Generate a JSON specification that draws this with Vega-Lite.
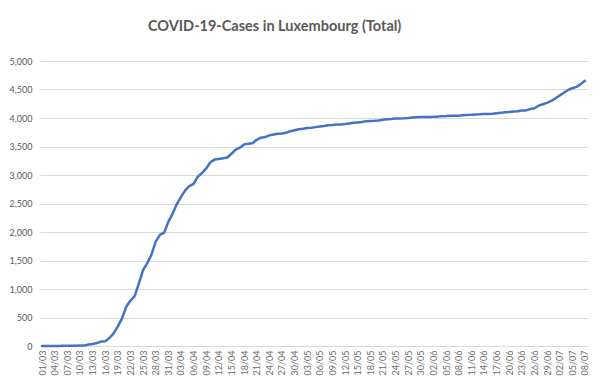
{
  "$schema": "https://vega.github.io/schema/vega-lite/v6.json",
  "width": 547,
  "height": 285,
  "autosize": "none",
  "padding": {"left": 40, "top": 61, "right": 13, "bottom": 39},
  "background": "white",
  "config": {"view": {"stroke": null}, "font": "Lato"},
  "title": {"text": "COVID-19-Cases in Luxembourg (Total)", "anchor": "start", "frame": "group", "dx": 108, "offset": 23, "fontSize": 14.5, "fontWeight": "bold", "color": "#595959", "font": "Lato"},
  "data": {"values": [
    {"d":"01/03","c":1},{"d":"02/03","c":1},{"d":"03/03","c":1},{"d":"04/03","c":1},{"d":"05/03","c":2},{"d":"06/03","c":3},{"d":"07/03","c":4},{"d":"08/03","c":5},{"d":"09/03","c":5},{"d":"10/03","c":7},
    {"d":"11/03","c":7},{"d":"12/03","c":26},{"d":"13/03","c":34},{"d":"14/03","c":51},{"d":"15/03","c":77},{"d":"16/03","c":85},{"d":"17/03","c":140},{"d":"18/03","c":220},{"d":"19/03","c":345},{"d":"20/03","c":484},
    {"d":"21/03","c":690},{"d":"22/03","c":798},{"d":"23/03","c":875},{"d":"24/03","c":1099},{"d":"25/03","c":1333},{"d":"26/03","c":1453},{"d":"27/03","c":1605},{"d":"28/03","c":1831},{"d":"29/03","c":1950},{"d":"30/03","c":1988},
    {"d":"31/03","c":2178},{"d":"01/04","c":2319},{"d":"02/04","c":2487},{"d":"03/04","c":2612},{"d":"04/04","c":2729},{"d":"05/04","c":2804},{"d":"06/04","c":2843},{"d":"07/04","c":2970},{"d":"08/04","c":3034},{"d":"09/04","c":3115},
    {"d":"10/04","c":3223},{"d":"11/04","c":3270},{"d":"12/04","c":3281},{"d":"13/04","c":3292},{"d":"14/04","c":3307},{"d":"15/04","c":3373},{"d":"16/04","c":3444},{"d":"17/04","c":3480},{"d":"18/04","c":3537},{"d":"19/04","c":3550},
    {"d":"20/04","c":3558},{"d":"21/04","c":3618},{"d":"22/04","c":3654},{"d":"23/04","c":3665},{"d":"24/04","c":3695},{"d":"25/04","c":3711},{"d":"26/04","c":3723},{"d":"27/04","c":3729},{"d":"28/04","c":3741},{"d":"29/04","c":3769},
    {"d":"30/04","c":3784},{"d":"01/05","c":3802},{"d":"02/05","c":3812},{"d":"03/05","c":3824},{"d":"04/05","c":3828},{"d":"05/05","c":3840},{"d":"06/05","c":3851},{"d":"07/05","c":3859},{"d":"08/05","c":3871},{"d":"09/05","c":3877},
    {"d":"10/05","c":3886},{"d":"11/05","c":3888},{"d":"12/05","c":3894},{"d":"13/05","c":3904},{"d":"14/05","c":3915},{"d":"15/05","c":3923},{"d":"16/05","c":3930},{"d":"17/05","c":3945},{"d":"18/05","c":3947},{"d":"19/05","c":3950},
    {"d":"20/05","c":3958},{"d":"21/05","c":3971},{"d":"22/05","c":3980},{"d":"23/05","c":3981},{"d":"24/05","c":3990},{"d":"25/05","c":3993},{"d":"26/05","c":3995},{"d":"27/05","c":4000},{"d":"28/05","c":4008},{"d":"29/05","c":4012},
    {"d":"30/05","c":4016},{"d":"31/05","c":4018},{"d":"01/06","c":4019},{"d":"02/06","c":4020},{"d":"03/06","c":4024},{"d":"04/06","c":4032},{"d":"05/06","c":4035},{"d":"06/06","c":4040},{"d":"07/06","c":4040},{"d":"08/06","c":4040},
    {"d":"09/06","c":4048},{"d":"10/06","c":4052},{"d":"11/06","c":4055},{"d":"12/06","c":4063},{"d":"13/06","c":4065},{"d":"14/06","c":4069},{"d":"15/06","c":4070},{"d":"16/06","c":4075},{"d":"17/06","c":4085},{"d":"18/06","c":4090},
    {"d":"19/06","c":4100},{"d":"20/06","c":4104},{"d":"21/06","c":4113},{"d":"22/06","c":4120},{"d":"23/06","c":4130},{"d":"24/06","c":4133},{"d":"25/06","c":4156},{"d":"26/06","c":4170},{"d":"27/06","c":4216},{"d":"28/06","c":4241},
    {"d":"29/06","c":4265},{"d":"30/06","c":4299},{"d":"01/07","c":4345},{"d":"02/07","c":4395},{"d":"03/07","c":4444},{"d":"04/07","c":4491},{"d":"05/07","c":4522},{"d":"06/07","c":4547},{"d":"07/07","c":4594},{"d":"08/07","c":4654}
  ]},
  "mark": {"type": "line", "color": "#4472C4", "strokeWidth": 2.5, "strokeJoin": "round", "strokeCap": "round"},
  "encoding": {
    "x": {
      "field": "d", "type": "ordinal", "sort": null,
      "scale": {"type": "point", "padding": 0.5},
      "axis": {
        "title": null,
        "values": ["01/03","04/03","07/03","10/03","13/03","16/03","19/03","22/03","25/03","28/03","31/03","03/04","06/04","09/04","12/04","15/04","18/04","21/04","24/04","27/04","30/04","03/05","06/05","09/05","12/05","15/05","18/05","21/05","24/05","27/05","30/05","02/06","05/06","08/06","11/06","14/06","17/06","20/06","23/06","26/06","29/06","02/07","05/07","08/07"],
        "labelAngle": -90, "labelFontSize": 9, "labelColor": "#6b6b6b", "labelPadding": 4,
        "ticks": false, "domainColor": "#d9d9d9", "domainWidth": 1, "grid": false, "labelFont": "Lato"
      }
    },
    "y": {
      "field": "c", "type": "quantitative",
      "scale": {"domain": [0, 5000], "nice": false},
      "axis": {
        "title": null, "values": [0,500,1000,1500,2000,2500,3000,3500,4000,4500,5000], "format": ",.0f",
        "labelFontSize": 9, "labelColor": "#595959", "labelPadding": 8,
        "ticks": false, "domain": false, "gridColor": "#d9d9d9", "gridWidth": 1, "labelFont": "Lato"
      }
    }
  }
}
